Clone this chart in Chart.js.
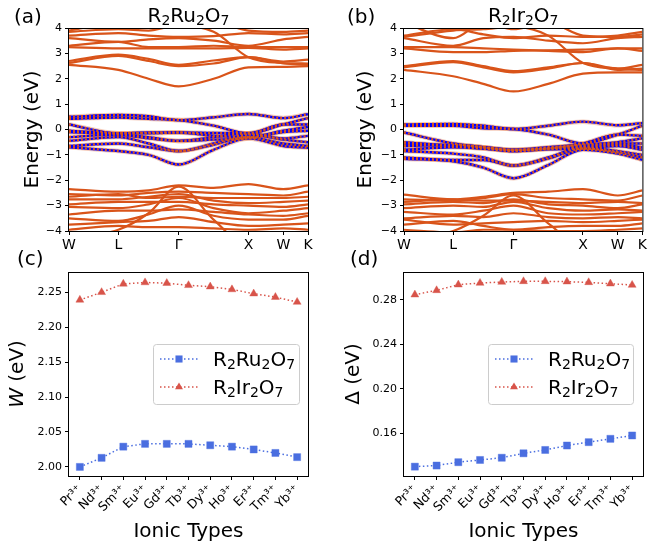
<!DOCTYPE html>
<html>
<head>
<meta charset="utf-8">
<script src="https://cdn.jsdelivr.net/npm/chart.js@4/dist/chart.umd.min.js"></script>
<style>
  html, body { margin: 0; padding: 0; background: #fff; }
  .panel { position: absolute; }
</style>
</head>
<body>
<div class="panel" style="left:0;top:0;width:325px;height:262px"><canvas id="bandRu"></canvas></div>
<div class="panel" style="left:325px;top:0;width:324px;height:262px"><canvas id="bandIr"></canvas></div>
<div class="panel" style="left:0;top:240px;width:325px;height:306px"><canvas id="widthChart"></canvas></div>
<div class="panel" style="left:325px;top:240px;width:324px;height:306px"><canvas id="gapChart"></canvas></div>
<script>
// k-path W-L-Γ-X-W-K (units of 2π/a), sample points used for every band
const kPoints = [0, 0.707, 1.140, 1.573, 2.073, 2.573, 3.073, 3.427];
const kTickPos = [0, 0.707, 1.573, 2.573, 3.073, 3.427];
const kTickLabels = ['W', 'L', 'Γ', 'X', 'W', 'K'];
const energyTicks = [-4, -3, -2, -1, 0, 1, 2, 3, 4];

// R2Ru2O7 bands (eV) at kPoints
const ruUpper = [
  [2.55, 2.35, 2.00, 1.70, 2.00, 2.45, 2.47, 2.50],
  [2.62, 2.90, 2.70, 2.50, 2.60, 2.85, 2.60, 2.55],
  [2.70, 2.95, 2.78, 2.55, 2.72, 2.85, 2.68, 2.75],
  [3.25, 3.20, 3.20, 3.20, 3.20, 3.22, 3.15, 3.20],
  [3.30, 3.45, 3.25, 3.25, 3.30, 3.25, 3.25, 3.25],
  [3.60, 3.45, 3.55, 3.60, 3.50, 3.30, 3.55, 3.65],
  [3.70, 3.80, 3.70, 3.65, 3.68, 3.80, 3.75, 3.80],
  [3.85, 3.95, 3.90, 4.10, 3.85, 2.85, 2.62, 2.60],
  [3.90, 4.20, 4.10, 4.40, 4.30, 3.90, 3.85, 3.90]
];
const ruFermi = [
  [0.50, 0.57, 0.52, 0.37, 0.48, 0.61, 0.45, 0.60],
  [0.42, 0.47, 0.42, 0.37, 0.15, -0.15, 0.20, 0.45],
  [0.20, -0.15, -0.12, -0.12, -0.14, -0.15, 0.20, 0.20],
  [-0.05, -0.15, -0.15, -0.12, -0.25, -0.30, -0.05, 0.10],
  [-0.10, -0.20, -0.35, -0.45, -0.40, -0.35, -0.10, -0.05],
  [-0.30, -0.20, -0.30, -0.45, -0.30, -0.15, -0.35, -0.25],
  [-0.45, -0.30, -0.55, -0.85, -0.55, -0.20, -0.40, -0.50],
  [-0.65, -0.55, -0.70, -0.85, -0.60, -0.30, -0.55, -0.65],
  [-0.70, -0.85, -1.00, -1.38, -0.80, -0.35, -0.65, -0.72]
];
const ruLower = [
  [-2.35, -2.45, -2.40, -2.20, -2.30, -2.15, -2.35, -2.20],
  [-2.55, -2.60, -2.50, -2.45, -2.50, -2.55, -2.60, -2.45],
  [-2.65, -2.55, -2.70, -2.65, -2.70, -2.70, -2.70, -2.65],
  [-2.75, -2.75, -2.65, -2.55, -2.80, -2.90, -2.85, -2.80],
  [-2.95, -2.85, -2.85, -2.85, -2.95, -3.00, -3.05, -2.95],
  [-3.05, -3.10, -2.95, -2.70, -3.10, -3.30, -3.20, -3.10],
  [-3.35, -3.20, -3.20, -3.15, -3.25, -3.35, -3.40, -3.30],
  [-3.50, -3.60, -3.35, -3.00, -3.40, -3.55, -3.55, -3.40],
  [-3.75, -3.65, -3.60, -3.45, -3.65, -3.80, -3.75, -3.70],
  [-3.95, -3.80, -3.85, -3.85, -3.90, -3.95, -3.90, -3.95],
  [-4.30, -3.95, -3.30, -2.25, -3.55, -4.60, -4.50, -4.40]
];

// R2Ir2O7 bands (eV) at kPoints
const irUpper = [
  [2.35, 2.10, 1.80, 1.50, 1.80, 2.20, 2.25, 2.25],
  [2.45, 2.65, 2.45, 2.25, 2.40, 2.62, 2.35, 2.40],
  [2.50, 2.70, 2.50, 2.30, 2.45, 2.62, 2.40, 2.55],
  [3.20, 3.05, 3.05, 3.10, 3.12, 3.15, 3.20, 3.10],
  [3.25, 3.25, 3.20, 3.15, 3.10, 3.05, 3.20, 3.20],
  [3.60, 3.30, 3.60, 3.65, 3.50, 3.40, 3.60, 3.65],
  [3.70, 3.95, 3.75, 3.60, 3.70, 3.65, 3.70, 3.85],
  [3.65, 3.90, 3.95, 4.05, 3.70, 2.62, 2.40, 2.35],
  [4.20, 3.60, 4.20, 3.95, 4.20, 3.70, 3.65, 3.75]
];
const irFermi = [
  [0.20, 0.22, 0.15, 0.02, 0.15, 0.31, 0.17, 0.25],
  [0.15, 0.15, 0.05, 0.02, -0.20, -0.55, -0.20, 0.15],
  [-0.12, -0.55, -0.70, -0.80, -0.75, -0.55, -0.20, -0.25],
  [-0.50, -0.65, -0.70, -0.80, -0.70, -0.60, -0.50, -0.35],
  [-0.55, -0.65, -0.75, -0.82, -0.72, -0.65, -0.55, -0.55],
  [-0.65, -0.60, -0.70, -0.85, -0.75, -0.70, -0.60, -0.70],
  [-0.80, -0.70, -0.75, -0.85, -0.78, -0.75, -0.65, -0.80],
  [-0.85, -0.95, -1.10, -1.42, -1.10, -0.70, -0.85, -1.00],
  [-1.10, -1.20, -1.20, -1.42, -1.15, -0.75, -0.90, -1.10],
  [-1.15, -1.25, -1.50, -1.92, -1.40, -0.80, -0.95, -1.20]
];
const irLower = [
  [-2.57, -2.75, -2.65, -2.50, -2.45, -2.35, -2.60, -2.40],
  [-2.75, -2.80, -2.70, -2.55, -2.70, -2.75, -2.80, -2.60],
  [-2.85, -2.75, -2.80, -2.80, -2.85, -2.90, -2.85, -2.90],
  [-2.95, -2.85, -2.90, -2.75, -2.95, -3.00, -3.10, -2.95],
  [-3.10, -3.00, -3.05, -2.85, -3.10, -3.20, -3.15, -3.20],
  [-3.25, -3.35, -3.20, -3.00, -3.30, -3.35, -3.30, -3.25],
  [-3.50, -3.40, -3.45, -3.30, -3.45, -3.50, -3.45, -3.50],
  [-3.55, -3.75, -3.70, -3.65, -3.60, -3.65, -3.60, -3.55],
  [-3.75, -3.60, -3.80, -3.95, -3.85, -3.80, -3.80, -3.70],
  [-3.95, -4.05, -3.95, -3.95, -4.00, -4.00, -3.95, -3.90],
  [-4.30, -4.00, -3.40, -2.60, -3.70, -4.60, -4.50, -4.40]
];

// panels (c) and (d)
const ions = ['Pr³⁺', 'Nd³⁺', 'Sm³⁺', 'Eu³⁺', 'Gd³⁺', 'Tb³⁺', 'Dy³⁺', 'Ho³⁺', 'Er³⁺', 'Tm³⁺', 'Yb³⁺'];
const ruWidth = [2.000, 2.013, 2.029, 2.033, 2.033, 2.033, 2.031, 2.029, 2.025, 2.020, 2.014];
const irWidth = [2.239, 2.250, 2.262, 2.264, 2.263, 2.260, 2.258, 2.254, 2.248, 2.243, 2.236];
const ruGap = [0.130, 0.131, 0.134, 0.136, 0.138, 0.142, 0.145, 0.149, 0.152, 0.155, 0.158];
const irGap = [0.2845, 0.2884, 0.2935, 0.2950, 0.2959, 0.2965, 0.2965, 0.2962, 0.2956, 0.2944, 0.2932];
const widthTicks = [2.00, 2.05, 2.10, 2.15, 2.20, 2.25];
const gapTicks = [0.16, 0.20, 0.24, 0.28];

const ORANGE = '#d9541a';
const BLUE = '#4a6ee0';
const RED = '#d8544a';
const FONT = '"DejaVu Sans", sans-serif';

Chart.defaults.font.family = FONT;
Chart.defaults.color = '#000';

// text with _x subscripts
function rich(ctx, s, x, y, size, align) {
  const parts = [];
  for (let i = 0; i < s.length; i++) {
    if (s[i] === '_') { parts.push({t: s[i + 1], sub: true}); i++; }
    else if (parts.length && !parts[parts.length - 1].sub) parts[parts.length - 1].t += s[i];
    else parts.push({t: s[i], sub: false});
  }
  const big = size + 'px ' + FONT, small = (size * 0.7) + 'px ' + FONT;
  let w = 0;
  parts.forEach(p => { ctx.font = p.sub ? small : big; p.w = ctx.measureText(p.t).width; w += p.w; });
  let cx = align === 'center' ? x - w / 2 : x;
  ctx.textAlign = 'left';
  parts.forEach(p => {
    ctx.font = p.sub ? small : big;
    ctx.fillText(p.t, cx, p.sub ? y + size * 0.17 : y);
    cx += p.w;
  });
}

function marker(ctx, style, x, y, r, color) {
  ctx.fillStyle = color;
  ctx.beginPath();
  if (style === 'rect') {
    const h = r * Math.SQRT1_2;
    ctx.rect(x - h, y - h, 2 * h, 2 * h);
  } else {
    ctx.moveTo(x, y - r);
    ctx.lineTo(x + r * 0.866, y + r * 0.5);
    ctx.lineTo(x - r * 0.866, y + r * 0.5);
    ctx.closePath();
  }
  ctx.fill();
}

const decoPlugin = {
  id: 'deco',
  afterDraw(chart, args, o) {
    const ctx = chart.ctx, a = chart.chartArea;
    ctx.save();
    ctx.strokeStyle = '#000';
    ctx.lineWidth = 1;
    ctx.strokeRect(a.left - 0.5, a.top + 0.5, a.right - a.left + 1, a.bottom - a.top);
    ctx.fillStyle = '#000';
    ctx.textBaseline = 'alphabetic';
    ctx.font = '20px ' + FONT;
    ctx.textAlign = 'left';
    ctx.fillText(o.tag, o.tagX, o.tagY);
    if (o.title) rich(ctx, o.title, (a.left + a.right) / 2, o.titleY, 20, 'center');

    // rotated y label
    ctx.save();
    ctx.translate(a.left - o.yOff, (a.top + a.bottom) / 2);
    ctx.rotate(-Math.PI / 2);
    ctx.textBaseline = 'middle';
    let w = 0;
    o.ylabel.forEach(p => { ctx.font = (p.it ? 'italic ' : '') + '20px ' + FONT; p.w = ctx.measureText(p.t).width; w += p.w; });
    let cx = -w / 2;
    o.ylabel.forEach(p => { ctx.font = (p.it ? 'italic ' : '') + '20px ' + FONT; ctx.fillText(p.t, cx, 0); cx += p.w; });
    ctx.restore();

    if (o.xlabel) {
      ctx.font = '20px ' + FONT;
      ctx.textAlign = 'center';
      ctx.fillText(o.xlabel, (a.left + a.right) / 2, o.xlabelY);
    }

    if (o.legend) {
      const L = o.legend;
      const bx = a.left + L.dx, by = a.top + L.dy, bw = a.right - L.dr - bx, bh = L.h;
      ctx.beginPath();
      ctx.roundRect(bx + 0.5, by + 0.5, bw, bh, 3);
      ctx.fillStyle = 'rgba(255,255,255,0.8)';
      ctx.fill();
      ctx.strokeStyle = '#cccccc';
      ctx.stroke();
      L.entries.forEach((e, i) => {
        const yy = by + 15 + i * 28;
        ctx.strokeStyle = e.color;
        ctx.lineWidth = 1.5;
        ctx.setLineDash([1.5, 2.5]);
        ctx.beginPath();
        ctx.moveTo(bx + 7, yy);
        ctx.lineTo(bx + 46, yy);
        ctx.stroke();
        ctx.setLineDash([]);
        marker(ctx, e.style, bx + 26, yy, e.r, e.color);
        ctx.fillStyle = '#000';
        rich(ctx, e.label, bx + 60, yy + 7, 20, 'left');
      });
    }
    ctx.restore();
  }
};

function tickGrid() {
  return {drawOnChartArea: false, drawTicks: true, tickLength: 4, color: '#000', lineWidth: 1};
}

function bandChart(id, upper, fermi, lower, axisW, padR, deco) {
  const pts = b => kPoints.map((k, i) => ({x: k, y: b[i]}));
  const sets = [];
  fermi.forEach(b => {
    sets.push({data: pts(b), borderColor: ORANGE, borderWidth: 2.4, borderDash: [2, 2], order: 0});
    sets.push({data: pts(b), borderColor: '#0000ff', borderWidth: 2.4, order: 1});
    sets.push({data: pts(b), borderColor: 'rgba(217,84,26,0.3)', borderWidth: 4.5, order: 2});
  });
  upper.concat(lower).forEach(b => {
    sets.push({data: pts(b), borderColor: ORANGE, borderWidth: 2.2, order: 3});
  });
  new Chart(document.getElementById(id), {
    type: 'line',
    data: {datasets: sets},
    options: {
      animation: false,
      responsive: true,
      maintainAspectRatio: false,
      layout: {padding: {top: 28, right: padR, left: 0, bottom: 0}},
      elements: {point: {radius: 0}, line: {cubicInterpolationMode: 'monotone', fill: false}},
      plugins: {legend: {display: false}, tooltip: {enabled: false}, deco: deco},
      scales: {
        x: {
          type: 'linear', min: 0, max: kTickPos[kTickPos.length - 1],
          afterBuildTicks: s => { s.ticks = kTickPos.map(v => ({value: v})); },
          afterFit: s => { s.height = 31; },
          ticks: {callback: (v, i) => kTickLabels[i], font: {size: 14}, padding: 2, maxRotation: 0, autoSkip: false},
          grid: tickGrid(),
          border: {display: false}
        },
        y: {
          min: -4, max: 4,
          afterBuildTicks: s => { s.ticks = energyTicks.map(v => ({value: v})); },
          afterFit: s => { s.width = axisW; },
          ticks: {font: {size: 11}, padding: 3, callback: v => (v < 0 ? '\u2212' + Math.abs(v) : String(v))},
          grid: tickGrid(),
          border: {display: false}
        }
      }
    },
    plugins: [decoPlugin]
  });
}

function paramChart(id, ru, ir, yTicks, yMin, yMax, axisW, padR, deco) {
  new Chart(document.getElementById(id), {
    type: 'line',
    data: {
      labels: ions,
      datasets: [
        {label: 'R2Ru2O7', data: ru, borderColor: BLUE, borderWidth: 1.5, borderDash: [1.5, 2.5],
         pointStyle: 'rect', pointRadius: 5, pointBackgroundColor: BLUE, pointBorderColor: 'rgba(74,110,224,0.4)', pointBorderWidth: 1},
        {label: 'R2Ir2O7', data: ir, borderColor: RED, borderWidth: 1.5, borderDash: [1.5, 2.5],
         pointStyle: 'triangle', pointRadius: 4.6, pointBackgroundColor: RED, pointBorderColor: 'rgba(216,84,74,0.4)', pointBorderWidth: 1}
      ]
    },
    options: {
      animation: false,
      responsive: true,
      maintainAspectRatio: false,
      layout: {padding: {top: 32, right: padR, left: 0, bottom: 0}},
      elements: {line: {tension: 0, fill: false}},
      plugins: {legend: {display: false}, tooltip: {enabled: false}, deco: deco},
      scales: {
        x: {
          offset: true,
          afterFit: s => { s.height = 70; },
          ticks: {maxRotation: 45, minRotation: 45, font: {size: 12.5}, padding: 2, autoSkip: false},
          grid: tickGrid(),
          border: {display: false}
        },
        y: {
          min: yMin, max: yMax,
          afterBuildTicks: s => { s.ticks = yTicks.map(v => ({value: v})); },
          afterFit: s => { s.width = axisW; },
          ticks: {font: {size: 11}, padding: 3, callback: v => v.toFixed(2)},
          grid: tickGrid(),
          border: {display: false}
        }
      }
    },
    plugins: [decoPlugin]
  });
}

const legendEntries = [
  {label: 'R_2Ru_2O_7', color: BLUE, style: 'rect', r: 5},
  {label: 'R_2Ir_2O_7', color: RED, style: 'triangle', r: 4.6}
];

bandChart('bandRu', ruUpper, ruFermi, ruLower, 69, 17, {
  tag: '(a)', tagX: 14, tagY: 23, title: 'R_2Ru_2O_7', titleY: 22,
  ylabel: [{t: 'Energy (eV)'}], yOff: 36
});
bandChart('bandIr', irUpper, irFermi, irLower, 79, 6, {
  tag: '(b)', tagX: 22, tagY: 23, title: 'R_2Ir_2O_7', titleY: 22,
  ylabel: [{t: 'Energy (eV)'}], yOff: 38
});
paramChart('widthChart', ruWidth, irWidth, widthTicks, 1.987, 2.279, 69, 17, {
  tag: '(c)', tagX: 17, tagY: 25, ylabel: [{t: 'W', it: true}, {t: ' (eV)'}], yOff: 51,
  xlabel: 'Ionic Types', xlabelY: 297,
  legend: {dx: 84, dr: 9, dy: 72, h: 60, entries: legendEntries}
});
paramChart('gapChart', ruGap, irGap, gapTicks, 0.1216, 0.3049, 79, 5, {
  tag: '(d)', tagX: 25, tagY: 25, ylabel: [{t: 'Δ (eV)'}], yOff: 50,
  xlabel: 'Ionic Types', xlabelY: 297,
  legend: {dx: 84, dr: 10, dy: 72, h: 60, entries: legendEntries}
});
</script>
</body>
</html>
